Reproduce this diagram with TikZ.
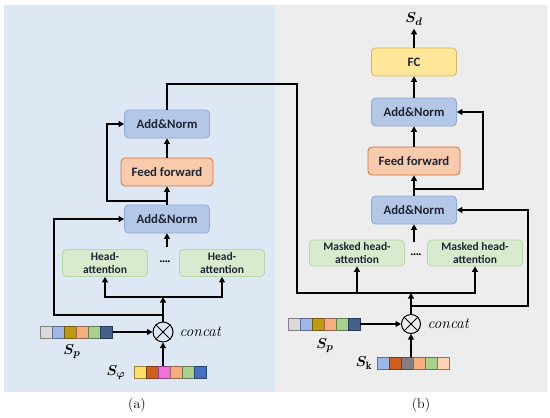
\documentclass[tikz,border=0pt]{standalone}
\usepackage{amsmath,bm}
\usepackage{fontspec}
\newfontfamily\boxfont{Carlito}
\usetikzlibrary{arrows.meta}
\definecolor{bga}{HTML}{DEE8F4}
\definecolor{bgb}{HTML}{EDEDED}
\definecolor{anfill}{HTML}{B4C7E7}
\definecolor{anline}{HTML}{8EA9DB}
\definecolor{fffill}{HTML}{F8CBAD}
\definecolor{ffline}{HTML}{D0703A}
\definecolor{hfill}{HTML}{D9EBCF}
\definecolor{hline}{HTML}{B6D7A8}
\definecolor{fcfill}{HTML}{FFE699}
\definecolor{fcline}{HTML}{D6B656}
\definecolor{boxtext}{HTML}{1F2433}
% cell colours
\definecolor{cgrey}{HTML}{D9D9D9}
\definecolor{cltblue}{HTML}{9DB8E8}
\definecolor{cgold}{HTML}{C09A10}
\definecolor{csalmon}{HTML}{F8AD80}
\definecolor{cgreen}{HTML}{A9D18E}
\definecolor{cnavy}{HTML}{44618C}
\definecolor{cyellow}{HTML}{FFE066}
\definecolor{crust}{HTML}{D0601E}
\definecolor{cpink}{HTML}{F070E0}
\definecolor{cblue}{HTML}{4472C4}
\definecolor{cdkgrey}{HTML}{808080}
\definecolor{cpeach}{HTML}{FCD2B4}

\begin{document}
\begin{tikzpicture}[x=1pt,y=-1pt,
  box/.style={draw, rounded corners=4pt, line width=0.8pt, inner sep=0pt, align=center,
    text=boxtext, font=\boxfont\bfseries\fontsize{12.8}{13.5}\selectfont},
  anbox/.style={box, fill=anfill, draw=anline, minimum width=85pt, minimum height=28pt},
  ffbox/.style={box, fill=fffill, draw=ffline, minimum width=92pt, minimum height=28pt},
  headbox/.style={box, fill=hfill, draw=hline, minimum height=27pt,
    font=\boxfont\bfseries\fontsize{11.5}{12.5}\selectfont},
  fcbox/.style={box, fill=fcfill, draw=fcline, minimum width=85pt, minimum height=28pt},
  bar/.style={inner sep=0pt, minimum width=72pt, minimum height=12pt},
  cell/.style={line width=0.7pt},
  sym/.style={font=\fontsize{15.5}{17}\selectfont},
  link/.style={line width=1.1pt},
  arr/.style={link, -{Triangle[length=5.5pt,width=6pt]}}]
\useasboundingbox (0,0) rectangle (550,418);
% panel backgrounds
\fill[bga] (4,5) rectangle (275,392);
\fill[bgb] (275,5) rectangle (547,392);

% (a) encoder
\node[anbox] (an2a) at (167,124) {Add\&Norm};
\node[ffbox] (ffa) at (167,172) {Feed forward};
\node[anbox] (an1a) at (167,219) {Add\&Norm};
\node[headbox, minimum width=85pt] (ha1) at (105,263) {Head-\\attention};
\node[headbox, minimum width=85pt] (ha2) at (222,263) {Head-\\attention};
\node[font=\boxfont\bfseries] (dotsa) at (165,263) {····};
\node[circle, draw, line width=1pt, minimum size=20pt, inner sep=0pt] (cata) at (163,332) {};
\draw[line width=1pt] (cata.45) -- (cata.225) (cata.135) -- (cata.315);
\node[sym, anchor=west] (cctA) at (176,332) {\itshape concat};
\node[bar] (spa) at (76.5,332) {};
\filldraw[cell, fill=cgrey, draw=cgrey!60!black] (40.5,326) rectangle +(12,12);
\filldraw[cell, fill=cltblue, draw=cltblue!60!black] (52.5,326) rectangle +(12,12);
\filldraw[cell, fill=cgold, draw=cgold!60!black] (64.5,326) rectangle +(12,12);
\filldraw[cell, fill=csalmon, draw=csalmon!60!black] (76.5,326) rectangle +(12,12);
\filldraw[cell, fill=cgreen, draw=cgreen!60!black] (88.5,326) rectangle +(12,12);
\filldraw[cell, fill=cnavy, draw=cnavy!60!black] (100.5,326) rectangle +(12,12);
\node[sym] (lspa) at (72,352) {$\boldsymbol{S}_{\boldsymbol{p}}$};
\node[bar] (sphia) at (170,372) {};
\filldraw[cell, fill=cyellow, draw=cyellow!60!black] (134,366) rectangle +(12,12);
\filldraw[cell, fill=crust, draw=crust!60!black] (146,366) rectangle +(12,12);
\filldraw[cell, fill=cpink, draw=cpink!60!black] (158,366) rectangle +(12,12);
\filldraw[cell, fill=csalmon, draw=csalmon!60!black] (170,366) rectangle +(12,12);
\filldraw[cell, fill=cgreen, draw=cgreen!60!black] (182,366) rectangle +(12,12);
\filldraw[cell, fill=cblue, draw=cblue!60!black] (194,366) rectangle +(12,12);
\node[sym] (lsphia) at (116,373) {$\boldsymbol{S}_{\boldsymbol{\varphi}}$};
\node[font=\fontsize{14}{16}\selectfont] (capa) at (137,405) {(a)};

% (a) connectors
\coordinate (splitA) at (163,297);
\coordinate (tapA) at (163,315);
\coordinate (byA) at (54,315);
\coordinate (midA) at (167,247);
\coordinate (tapA2) at (167,201);
\coordinate (byA2) at (107,201);
\draw[arr] (spa) -- (cata);
\draw[arr] (sphia.north -| cata.south) -- (cata.south);
\draw[arr] (cata.north) -- (splitA);
\draw[arr] (splitA) -| (ha1.south);
\draw[arr] (splitA) -| (ha2.south);
\draw[arr] (tapA) -- (byA) |- (an1a.west);
\draw[arr] (midA) -- (an1a.south);
\draw[arr] (an1a.north) -- (ffa.south);
\draw[arr] (ffa.north) -- (an2a.south);
\draw[arr] (tapA2) -- (byA2) |- (an2a.west);

% (b) decoder
\node[sym] (sd) at (414,19) {$\boldsymbol{S}_{\boldsymbol{d}}$};
\node[fcbox] (fc) at (414,62) {FC};
\node[anbox] (an2b) at (414,112) {Add\&Norm};
\node[ffbox] (ffb) at (414,161) {Feed forward};
\node[anbox] (an1b) at (414,210) {Add\&Norm};
\node[headbox, minimum width=95pt, minimum height=26pt] (mh1) at (357,253) {Masked head-\\attention};
\node[headbox, minimum width=95pt, minimum height=26pt] (mh2) at (475,253) {Masked head-\\attention};
\node[font=\boxfont\bfseries] (dotsb) at (416,256) {····};
\node[circle, draw, line width=1pt, minimum size=19pt, inner sep=0pt] (catb) at (411,324) {};
\draw[line width=1pt] (catb.45) -- (catb.225) (catb.135) -- (catb.315);
\node[sym, anchor=west] (cctB) at (424,324) {\itshape concat};
\node[bar] (spb) at (324,324) {};
\filldraw[cell, fill=cgrey, draw=cgrey!60!black] (288,318) rectangle +(12,12);
\filldraw[cell, fill=cltblue, draw=cltblue!60!black] (300,318) rectangle +(12,12);
\filldraw[cell, fill=cgold, draw=cgold!60!black] (312,318) rectangle +(12,12);
\filldraw[cell, fill=csalmon, draw=csalmon!60!black] (324,318) rectangle +(12,12);
\filldraw[cell, fill=cgreen, draw=cgreen!60!black] (336,318) rectangle +(12,12);
\filldraw[cell, fill=cnavy, draw=cnavy!60!black] (348,318) rectangle +(12,12);
\node[sym] (lspb) at (325,346) {$\boldsymbol{S}_{\boldsymbol{p}}$};
\node[bar] (skb) at (413,363) {};
\filldraw[cell, fill=cltblue, draw=cblue] (377,357) rectangle +(12,12);
\filldraw[cell, fill=crust, draw=crust!60!black] (389,357) rectangle +(12,12);
\filldraw[cell, fill=cdkgrey, draw=cdkgrey!60!black] (401,357) rectangle +(12,12);
\filldraw[cell, fill=csalmon, draw=csalmon!60!black] (413,357) rectangle +(12,12);
\filldraw[cell, fill=cgreen, draw=cgreen!60!black] (425,357) rectangle +(12,12);
\filldraw[cell, fill=cpeach, draw=crust] (437,357) rectangle +(12,12);
\node[sym] (lskb) at (364,363) {$\boldsymbol{S}_{\mathbf{k}}$};
\node[font=\fontsize{14}{16}\selectfont] (capb) at (421,405) {(b)};

% (b) connectors
\coordinate (overB) at (297,84);
\coordinate (joinB) at (297,293);
\coordinate (splitB) at (411,293);
\coordinate (tapB) at (411,306);
\coordinate (byB) at (528,306);
\coordinate (midB) at (414,242);
\coordinate (tapB2) at (414,189);
\coordinate (byB2) at (483,189);
\draw[arr] (an2a.north) |- (overB) -- (joinB) -| (mh2.south);
\draw[arr] (joinB) -| (mh1.south);
\draw[arr] (spb) -- (catb);
\draw[arr] (skb.north -| catb.south) -- (catb.south);
\draw[arr] (catb.north) -- (splitB);
\draw[arr] (tapB) -- (byB) |- (an1b.east);
\draw[arr] (midB) -- (an1b.south);
\draw[arr] (an1b.north) -- (ffb.south);
\draw[arr] (ffb.north) -- (an2b.south);
\draw[arr] (tapB2) -- (byB2) |- (an2b.east);
\draw[arr] (an2b.north) -- (fc.south);
\draw[arr] (fc.north) -- (sd.south);
\end{tikzpicture}
\end{document}
